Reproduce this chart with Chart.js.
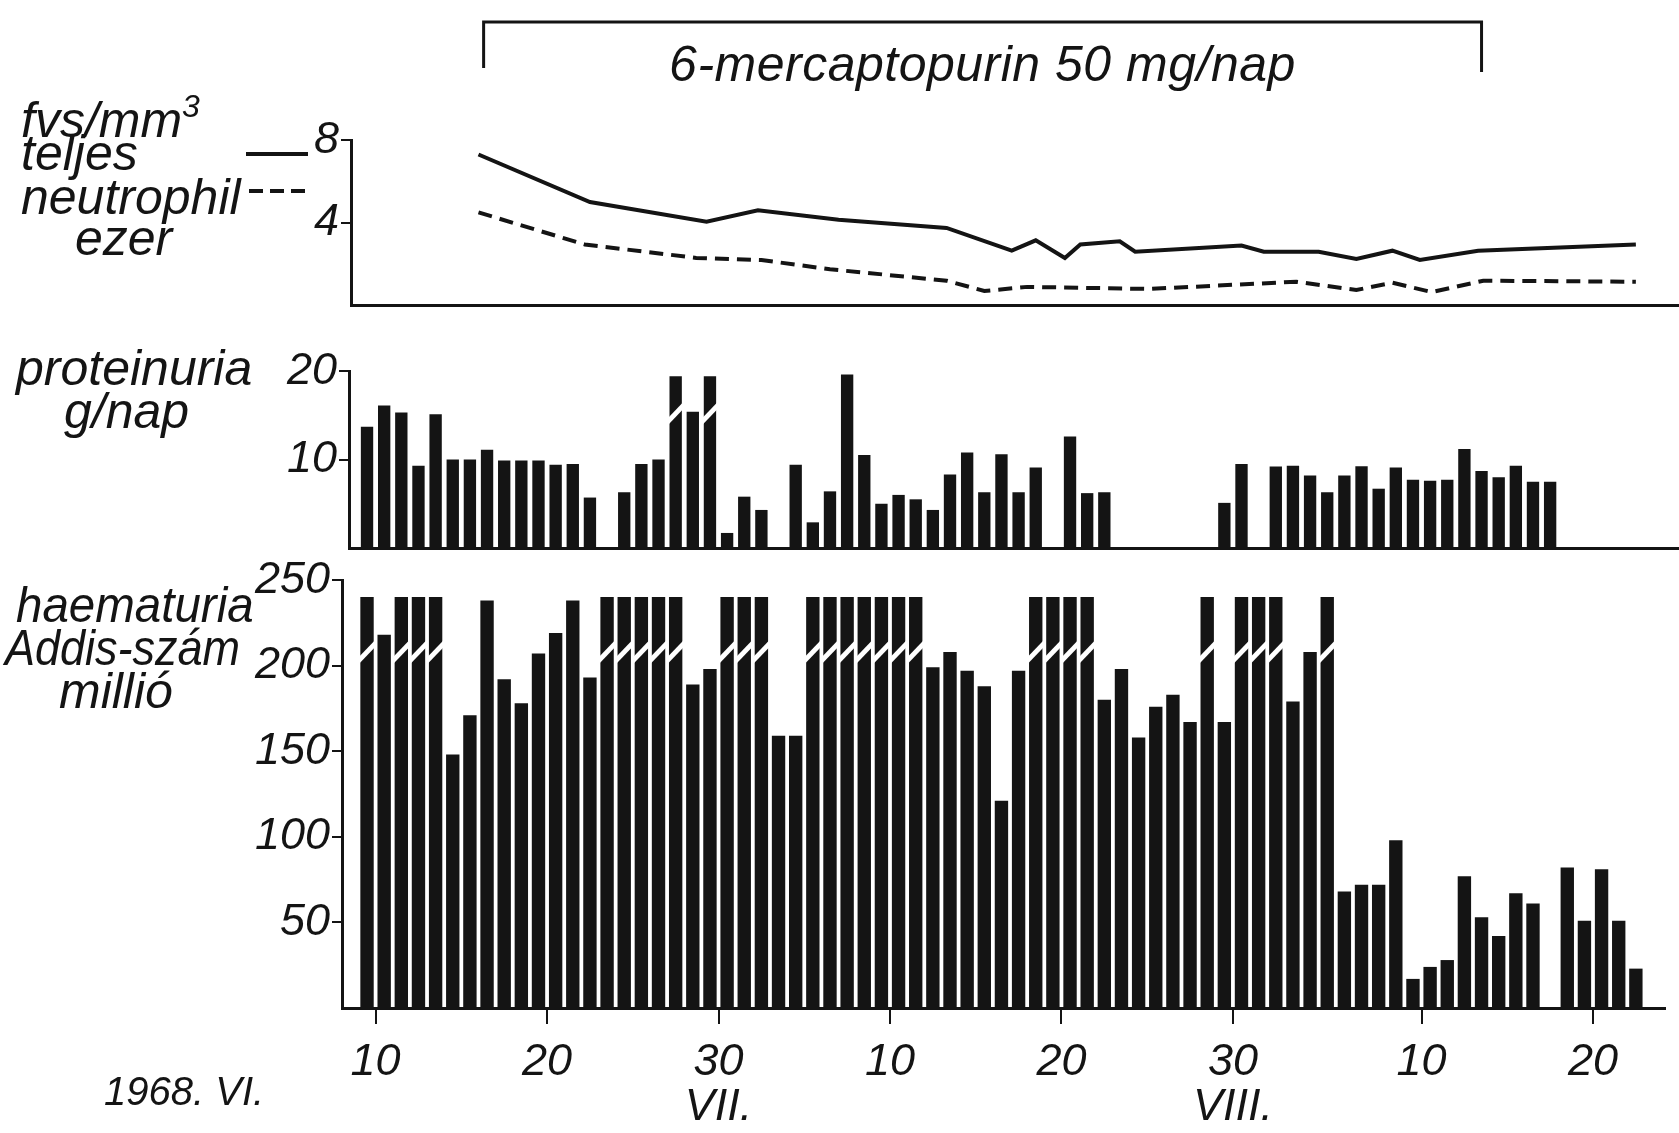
<!DOCTYPE html>
<html>
<head>
<meta charset="utf-8">
<title>6-mercaptopurin</title>
<script src="https://cdn.jsdelivr.net/npm/chart.js@4.4.0/dist/chart.umd.min.js"></script>
<style>
  html, body { margin: 0; padding: 0; background: #fff; }
  #page { position: relative; width: 1679px; height: 1133px; overflow: hidden; background: #fff; }
  canvas { position: absolute; left: 0; }
  .lbl {
    position: absolute;
    font-family: 'Liberation Sans Narrow', 'Liberation Sans', sans-serif;
    font-style: italic;
    font-size: 50px;
    line-height: 50px;
    color: #141414;
    white-space: nowrap;
    transform-origin: 0 50%;
  }
  .sup { font-size: 32px; position: relative; top: -20px; }
  .solid { position: absolute; height: 4px; background: #141414; }
  .dash { position: absolute; height: 4px;
    background: repeating-linear-gradient(90deg, #141414 0 14px, transparent 14px 21px); }
</style>
</head>
<body>
<div id="page">
  <canvas id="wbc" width="1679" height="330" style="top:0"></canvas>
  <canvas id="prot" width="1679" height="250" style="top:330px"></canvas>
  <canvas id="haem" width="1679" height="588" style="top:545px"></canvas>

  <div class="lbl" id="drugLabel" style="top:39px;letter-spacing:0.5px">6-mercaptopurin 50 mg/nap</div>

  <div class="lbl" style="left:21px;top:95px">fvs/mm<span class="sup">3</span></div>
  <div class="lbl" style="left:21px;top:128px">teljes</div>
  <div class="solid" style="left:246px;top:152px;width:62px"></div>
  <div class="lbl" style="left:21px;top:172px">neutrophil</div>
  <div class="dash" style="left:249px;top:189px;width:56px"></div>
  <div class="lbl" style="left:75px;top:213px">ezer</div>

  <div class="lbl" style="left:16px;top:343px">proteinuria</div>
  <div class="lbl" style="left:64px;top:386px">g/nap</div>

  <div class="lbl" style="left:16px;top:580px;transform:scaleX(0.95)">haematuria</div>
  <div class="lbl" style="left:5px;top:623px;transform:scaleX(0.9)">Addis-szám</div>
  <div class="lbl" style="left:59px;top:666px">millió</div>

  <div class="lbl" style="left:104px;top:1066px;font-size:40px">1968. VI.</div>
</div>

<script>
// days are counted from 1 June 1968 (1 July = day 31, 1 August = day 62)

// white cell count, thousand / mm3
const wbcDays = [16.0, 22.5, 29.3, 32.3, 37.0, 43.3, 47.1, 48.5, 50.2, 51.1, 53.4, 54.3, 60.5, 61.8, 65.0, 67.2, 69.3, 70.9, 74.3, 83.5];
const wbcTotal = [7.3, 5.0, 4.05, 4.6, 4.15, 3.75, 2.65, 3.15, 2.3, 2.95, 3.1, 2.6, 2.9, 2.6, 2.6, 2.25, 2.65, 2.2, 2.65, 2.95];
const neutroDays = [16.0, 22.2, 28.7, 32.5, 36.5, 43.3, 45.5, 48.0, 55.1, 63.7, 67.2, 69.3, 71.6, 74.6, 83.5];
const neutroValues = [4.5, 2.95, 2.3, 2.2, 1.75, 1.2, 0.7, 0.9, 0.8, 1.15, 0.75, 1.1, 0.65, 1.2, 1.15];

// 6-mercaptopurin treatment period
const drugStart = 16.3;
const drugEnd = 74.5;

// proteinuria g/day, one value per day from day 9, null = no measurement
const proteinStart = 9;
const proteinValues = [
  13.7, 16.1, 15.3, 9.3, 15.1, 10.0, 10.0, 11.1, 9.9, 9.9,
  9.9, 9.4, 9.5, 5.7, null, 6.3, 9.5, 10.0, 19.4, 15.4,
  19.4, 1.7, 5.8, 4.3, null, 9.4, 2.9, 6.4, 19.6, 10.5,
  5.0, 6.0, 5.5, 4.3, 8.3, 10.8, 6.3, 10.6, 6.3, 9.1,
  null, 12.6, 6.2, 6.3, null, null, null, null, null, null,
  5.1, 9.5, null, 9.2, 9.3, 8.2, 6.3, 8.2, 9.25, 6.7,
  9.1, 7.7, 7.6, 7.7, 11.2, 8.7, 8.0, 9.3, 7.5, 7.5
];
const proteinOffScale = [27, 29];

// haematuria, Addis count in millions, one value per day from day 9
const haemStart = 9;
const haemValues = [
  240, 218, 240, 240, 240, 148, 171, 238, 192, 178,
  207, 219, 238, 193, 240, 240, 240, 240, 240, 189,
  198, 240, 240, 240, 159, 159, 240, 240, 240, 240,
  240, 240, 240, 199, 208, 197, 188, 121, 197, 240,
  240, 240, 240, 180, 198, 158, 176, 183, 167, 240,
  167, 240, 240, 240, 179, 208, 240, 68, 72, 72,
  98, 17, 24, 28, 77, 53, 42, 67, 61, null,
  82, 51, 81, 51, 23
];
const haemOffScale = [9, 11, 12, 13, 23, 24, 25, 26, 27, 30, 31, 32, 35, 36, 37, 38, 39, 40, 41, 48, 49, 50, 51, 58, 60, 61, 62, 65];

// date axis
const tickDays = [10, 20, 30, 40, 50, 60, 71, 81];
const tickLabels = [['10'], ['20'], ['30', 'VII.'], ['10'], ['20'], ['30', 'VIII.'], ['10'], ['20']];

const INK = '#141414';
const FAMILY = "'Liberation Sans Narrow', 'Liberation Sans', sans-serif";
const tickFont = { family: FAMILY, size: 45, style: 'italic', lineHeight: 1.0 };

// page pixel -> day, from the 10 June and 20 August ticks
const dayAt = px => 10 + (px - 375.6) * 71 / (1593 - 375.6);

function barPoints(start, values) {
  const pts = [];
  values.forEach((v, i) => {
    if (v !== null) pts.push({ x: start + i + 0.5, y: v, day: start + i });
  });
  return pts;
}

function yAxis(width, max, step) {
  return {
    min: 0, max: max,
    afterFit: s => { s.width = width; },
    border: { display: true, color: INK, width: 3 },
    grid: {
      drawOnChartArea: false, drawTicks: true, tickLength: 10, lineWidth: 2,
      tickColor: c => (c.tick && c.tick.value === 0 ? 'rgba(0,0,0,0)' : INK)
    },
    ticks: {
      stepSize: step, padding: 2, color: INK, font: tickFont,
      callback: v => (v === 0 ? '' : String(v))
    }
  };
}

function plainX(height, left, right) {
  return {
    type: 'linear', min: dayAt(left), max: dayAt(right), offset: false,
    afterFit: s => { s.height = height; },
    border: { display: true, color: INK, width: 3 },
    grid: { display: false, offset: false },
    ticks: { display: false }
  };
}

// white slanted gap across bars whose value runs off the scale
const breakPlugin = {
  id: 'breaks',
  afterDatasetsDraw(chart, args, o) {
    const meta = chart.getDatasetMeta(0);
    const pts = chart.data.datasets[0].data;
    const ctx = chart.ctx;
    const yc = chart.scales.y.getPixelForValue(o.at);
    ctx.save();
    ctx.fillStyle = '#fff';
    meta.data.forEach((bar, i) => {
      if (!o.days.includes(pts[i].day)) return;
      const half = bar.width / 2 + 1;
      const rise = bar.width * 0.6;
      ctx.beginPath();
      ctx.moveTo(bar.x - half, yc + rise - o.gap / 2);
      ctx.lineTo(bar.x + half, yc - rise - o.gap / 2);
      ctx.lineTo(bar.x + half, yc - rise + o.gap / 2);
      ctx.lineTo(bar.x - half, yc + rise + o.gap / 2);
      ctx.closePath();
      ctx.fill();
    });
    ctx.restore();
  }
};

const bracketPlugin = {
  id: 'bracket',
  afterDraw(chart, args, o) {
    const x = chart.scales.x;
    const ctx = chart.ctx;
    const x0 = x.getPixelForValue(o.from);
    const x1 = x.getPixelForValue(o.to);
    ctx.save();
    ctx.strokeStyle = INK;
    ctx.lineWidth = 3;
    ctx.beginPath();
    ctx.moveTo(x0, o.bottom);
    ctx.lineTo(x0, o.top);
    ctx.lineTo(x1, o.top);
    ctx.lineTo(x1, o.bottom + 4);
    ctx.stroke();
    ctx.restore();
  }
};

const common = {
  animation: false,
  responsive: false,
  events: [],
  plugins: { legend: { display: false }, tooltip: { enabled: false } }
};

// white cells
const wbcChart = new Chart(document.getElementById('wbc'), {
  type: 'line',
  data: {
    datasets: [
      {
        data: wbcDays.map((d, i) => ({ x: d, y: wbcTotal[i] })),
        borderColor: INK, borderWidth: 4, pointRadius: 0, tension: 0
      },
      {
        data: neutroDays.map((d, i) => ({ x: d, y: neutroValues[i] })),
        borderColor: INK, borderWidth: 4, borderDash: [14, 8], pointRadius: 0, tension: 0
      }
    ]
  },
  options: {
    ...common,
    layout: { padding: { top: 140, right: 0, bottom: 0, left: 0 } },
    plugins: { ...common.plugins, bracket: { from: drugStart, to: drugEnd, top: 22, bottom: 68 } },
    scales: { x: plainX(23, 351, 1679), y: yAxis(351, 8, 4) }
  },
  plugins: [bracketPlugin]
});

// proteinuria
new Chart(document.getElementById('prot'), {
  type: 'bar',
  data: {
    datasets: [{
      data: barPoints(proteinStart, proteinValues),
      backgroundColor: INK, borderWidth: 0, barPercentage: 0.72, categoryPercentage: 1
    }]
  },
  options: {
    ...common,
    layout: { padding: { top: 41, right: 0, bottom: 0, left: 0 } },
    plugins: { ...common.plugins, breaks: { days: proteinOffScale, at: 15.2, gap: 7 } },
    scales: { x: plainX(32, 349, 1679), y: yAxis(349, 20, 10) }
  },
  plugins: [breakPlugin]
});

// haematuria
new Chart(document.getElementById('haem'), {
  type: 'bar',
  data: {
    datasets: [{
      data: barPoints(haemStart, haemValues),
      backgroundColor: INK, borderWidth: 0, barPercentage: 0.78, categoryPercentage: 1
    }]
  },
  options: {
    ...common,
    layout: { padding: { top: 35, right: 14, bottom: 0, left: 0 } },
    plugins: { ...common.plugins, breaks: { days: haemOffScale, at: 208, gap: 7 } },
    scales: {
      x: {
        type: 'linear', min: dayAt(342), max: dayAt(1665), offset: false,
        afterFit: s => { s.height = 125; },
        afterBuildTicks: s => { s.ticks = tickDays.map(v => ({ value: v })); },
        border: { display: true, color: INK, width: 3 },
        grid: { drawOnChartArea: false, offset: false, tickLength: 16, lineWidth: 2, color: INK },
        ticks: {
          autoSkip: false, maxRotation: 0, minRotation: 0, padding: 16,
          color: INK, font: tickFont,
          callback: (v, i) => tickLabels[i]
        }
      },
      y: yAxis(342, 250, 50)
    }
  },
  plugins: [breakPlugin]
});

// centre the drug label over its bracket
const lbl = document.getElementById('drugLabel');
const mid = wbcChart.scales.x.getPixelForValue((drugStart + drugEnd) / 2);
lbl.style.left = (mid - lbl.offsetWidth / 2) + 'px';
</script>
</body>
</html>
